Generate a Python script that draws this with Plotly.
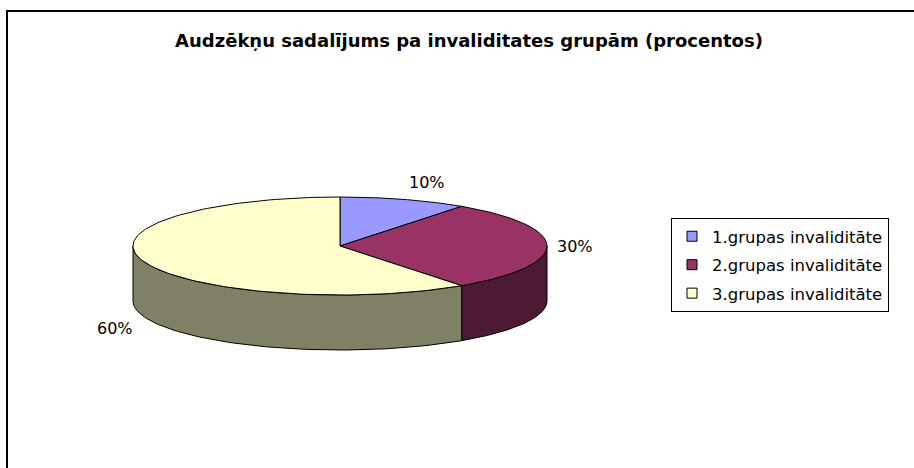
import numpy as np
import plotly.graph_objects as go

title = "Audzēkņu sadalījums pa invaliditates grupām (procentos)"
labels = ["1.grupas invaliditāte", "2.grupas invaliditāte", "3.grupas invaliditāte"]
values = [10, 30, 60]
top_colors = ["#9999FF", "#993366", "#FFFFCC"]
side_colors = ["#4D4D80", "#4D1A33", "#808066"]

W, H = 914, 468
cx, cy, rx, ry, depth = 340, 246, 207, 49, 55
FONT = "DejaVu Sans, Arial, sans-serif"


def pt(theta, dy=0.0):
    # theta in radians, clockwise from 12 o'clock
    return cx + rx * np.sin(theta), cy - ry * np.cos(theta) + dy


fig = go.Figure()
total = float(sum(values))
fracs = np.cumsum([0] + values) / total
angles = 2 * np.pi * fracs

# side faces (front half only: theta in [pi/2, 3pi/2])
for i in range(len(values)):
    a0, a1 = angles[i], angles[i + 1]
    s, e = max(a0, np.pi / 2), min(a1, 3 * np.pi / 2)
    if e <= s:
        continue
    th = np.linspace(s, e, 80)
    xt, yt = pt(th)
    xb, yb = pt(th[::-1], depth)
    fig.add_trace(go.Scatter(
        x=np.concatenate([xt, xb, xt[:1]]), y=np.concatenate([yt, yb, yt[:1]]),
        mode="lines", fill="toself", fillcolor=side_colors[i],
        line=dict(color="black", width=1), showlegend=False, hoverinfo="skip"))

# top faces
for i in range(len(values)):
    a0, a1 = angles[i], angles[i + 1]
    th = np.linspace(a0, a1, 120)
    xt, yt = pt(th)
    fig.add_trace(go.Scatter(
        x=np.concatenate([[cx], xt, [cx]]), y=np.concatenate([[cy], yt, [cy]]),
        mode="lines", fill="toself", fillcolor=top_colors[i],
        line=dict(color="black", width=1), showlegend=False,
        hoverinfo="text", text=f"{labels[i]}: {values[i]}%"))

# legend entries
for i in range(len(values)):
    fig.add_trace(go.Scatter(
        x=[None], y=[None], mode="markers", name=labels[i],
        legendgroup=f"g{i}",
        marker=dict(symbol="square", size=10, color=top_colors[i],
                    line=dict(color="black", width=1))))

# percentage labels: placed radially outside the slice's mid point
for i in range(len(values)):
    mid = (angles[i] + angles[i + 1]) / 2
    px, py = pt(mid)
    vx, vy = px - cx, py - cy
    n = np.hypot(vx, vy)
    x = px + 28 * vx / n
    y = py + 28 * vy / n
    if np.cos(mid) < -0.01:
        y += depth + 10
    fig.add_annotation(x=x, y=y, text=f"{values[i] / total * 100:.0f}%",
                       showarrow=False, xanchor="center", yanchor="middle",
                       font=dict(family=FONT, size=16, color="black"))

# chart border (top and left edges visible)
fig.add_shape(type="path", path=f"M 7,{H} L 7,11 L {W},11",
              line=dict(color="black", width=2), layer="above")

fig.update_layout(
    width=W, height=H,
    margin=dict(l=0, r=0, t=0, b=0),
    paper_bgcolor="white", plot_bgcolor="white",
    title=dict(text=f"<b>{title}</b>", x=469 / W, xanchor="center",
               y=1 - 41 / H, yanchor="middle",
               font=dict(family=FONT, size=18, color="black")),
    xaxis=dict(range=[0, W], visible=False, fixedrange=True),
    yaxis=dict(range=[H, 0], visible=False, fixedrange=True),
    legend=dict(x=671 / W, y=1 - 218 / H, xanchor="left", yanchor="top",
                bordercolor="black", borderwidth=1, bgcolor="white",
                tracegroupgap=4, itemwidth=30,
                font=dict(family=FONT, size=16.5, color="black")),
    showlegend=True,
)

fig.write_html("out.html", config={"displayModeBar": False},
               post_script="document.body.style.margin='0';")
